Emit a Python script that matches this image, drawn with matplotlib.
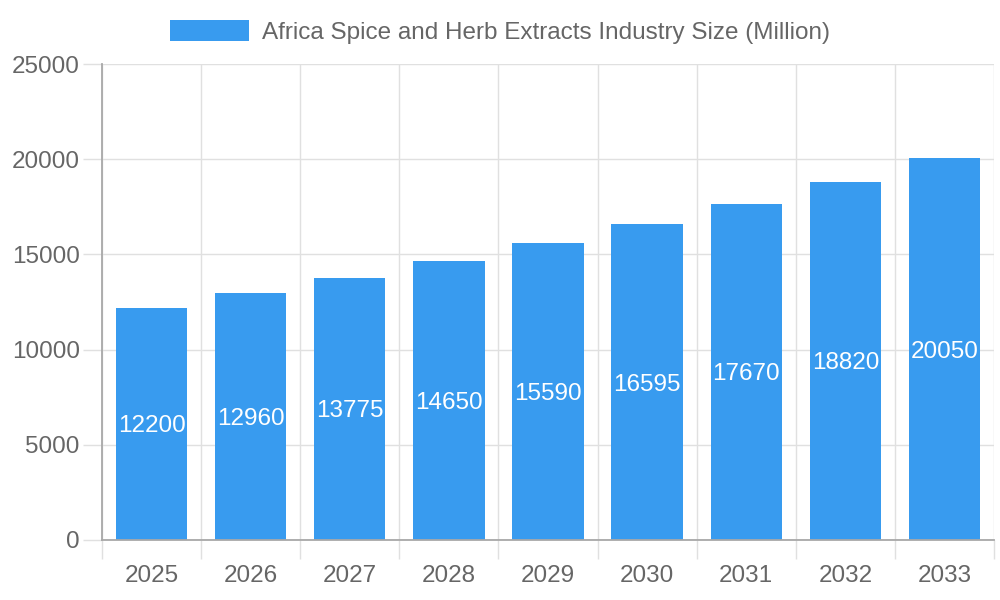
import numpy as np
import matplotlib
matplotlib.use("Agg")
import matplotlib.pyplot as plt

years = ["2025", "2026", "2027", "2028", "2029", "2030", "2031", "2032", "2033"]
sizes = [12200, 12960, 13775, 14650, 15590, 16595, 17670, 18820, 20050]
series_name = "Africa Spice and Herb Extracts Industry Size (Million)"

bar_color = "#389BEF"
grid_color = "#E0E0E0"
axis_color = "#A8A8A8"
text_color = "#666666"
fs = 17.5

plt.rcParams["font.family"] = ["Liberation Sans", "DejaVu Sans"]

fig = plt.figure(figsize=(10, 6), dpi=100)
ax = fig.add_axes([0.102, 0.1, 0.892, 0.7933])

x = np.arange(len(years))
bars = ax.bar(x, sizes, width=0.72, color=bar_color, label=series_name, zorder=2)

# value labels in the middle of each bar
for rect, v in zip(bars, sizes):
    ax.text(rect.get_x() + rect.get_width() / 2, v / 2, str(v),
            ha="center", va="center_baseline", color="white", fontsize=fs, zorder=3)

ax.set_xlim(-0.5, len(years) - 0.5)
ax.set_ylim(0, 25000)

ax.set_xticks(x)
ax.set_xticklabels(years)
ax.set_xticks(np.arange(len(years) + 1) - 0.5, minor=True)
ax.set_yticks(np.arange(0, 25001, 5000))

ax.tick_params(axis="x", which="major", length=0, pad=18, labelsize=fs, labelcolor=text_color)
ax.tick_params(axis="x", which="minor", length=14, width=1, color=grid_color)
ax.tick_params(axis="y", length=14, width=1, color=grid_color, pad=2,
               labelsize=fs, labelcolor=text_color)

ax.grid(axis="x", which="minor", color=grid_color, lw=1, zorder=0)
ax.grid(axis="y", which="major", color=grid_color, lw=1, zorder=0)
ax.set_axisbelow(True)

for side in ["top", "right"]:
    ax.spines[side].set_visible(False)
for side in ["left", "bottom"]:
    ax.spines[side].set_color(axis_color)
    ax.spines[side].set_linewidth(1.3)
    ax.spines[side].set_zorder(4)

fig.legend(loc="upper center", bbox_to_anchor=(0.5, 1.003), frameon=False,
           fontsize=fs, labelcolor=text_color, handlelength=3.25,
           handleheight=0.95, handletextpad=0.53)

fig.savefig("out.png", dpi=100)
